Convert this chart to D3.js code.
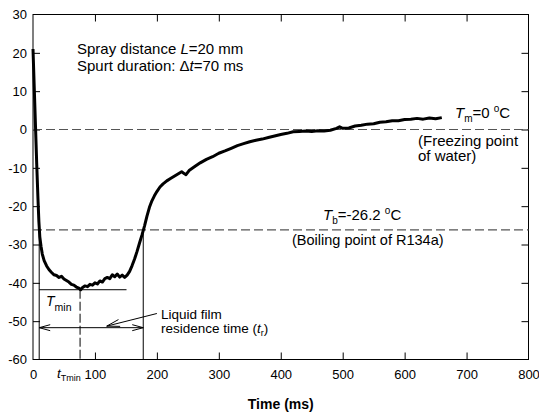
<!doctype html>
<html lang="en">
  <head>
    <meta charset="utf-8">
    <title>Spray cooling temperature</title>
    <script src="https://d3js.org/d3.v7.min.js"></script>
    <style>
      body { margin: 0; background: #fff; }
      svg text { font-family: "Liberation Sans", Arial, sans-serif; fill: #000; }
    </style>
  </head>

  <body>
    <svg width="539" height="415"></svg>

    <script>
      var timeMs = [0, 2, 4, 6, 8, 9.5, 11, 13, 15, 18, 22, 26, 30, 34, 38, 42, 46, 50, 54, 58,
        62, 66, 70, 74, 77, 80, 84, 88, 92, 96, 100, 104, 108, 112, 116, 120, 124, 128, 132, 136,
        140, 144, 148, 152, 156, 160, 164, 168, 172, 176, 180, 184, 188, 192, 196, 200, 205, 210, 216, 222,
        228, 234, 240, 244, 247, 252, 260, 270, 280, 290, 300, 310, 320, 330, 340, 350, 360, 370, 380, 390,
        400, 410, 420, 430, 440, 450, 460, 470, 480, 490, 495, 500, 510, 520, 530, 540, 550, 560, 570, 580,
        590, 600, 610, 620, 630, 640, 650, 660];
      var tempC = [21, 11, 1, -9, -18, -24, -28, -30.5, -32.5, -34.2, -35.6, -36.6, -37.3, -37.9, -38.1, -38.6, -38.3, -39.0, -39.4, -39.8,
        -40.4, -40.6, -41.1, -41.4, -41.8, -41.2, -40.8, -41.0, -40.4, -40.6, -40.0, -40.3, -39.5, -39.8, -38.9, -38.6, -38.9, -37.9, -38.4, -37.7,
        -38.5, -38.0, -38.6, -38.0, -37.0, -35.5, -33.8, -31.8, -29.6, -27.5, -25.2, -22.6, -20.3, -18.6, -17.3, -16.2, -15.0, -14.2, -13.4, -12.8,
        -12.2, -11.6, -11.0, -11.5, -11.8, -10.7, -9.8, -8.7, -7.8, -7.1, -6.2, -5.6, -4.9, -4.2, -3.7, -3.2, -2.8, -2.5, -2.1, -1.7,
        -1.3, -1.0, -0.6, -0.5, -0.4, -0.5, -0.3, -0.4, -0.2, 0.3, 0.7, 0.3, 0.4, 0.9, 1.1, 1.4, 1.5, 1.9, 2.0, 2.3,
        2.3, 2.6, 2.7, 2.9, 2.7, 3.0, 2.8, 3.1];

      var xTicks = [0, 100, 200, 300, 400, 500, 600, 700, 800];
      var yTicks = [30, 20, 10, 0, -10, -20, -30, -40, -50, -60];

      var freezingT = 0;
      var boilingT = -26.2;
      var tMin = -41.8;
      var tAtMin = 76;
      var filmStart = 10, filmEnd = 178;
      var tMinLineEnd = 151;
      var residenceY = -51.7;
      var pointerFrom = [200, -48], pointerTo = [119, -51.3];

      var svg = d3.select('svg');
      var plotL = 33, plotR = 528.5, plotT = 14.5, plotB = 359.5;

      var x = d3.scaleLinear().domain([0, 800]).range([plotL, plotR]);
      var y = d3.scaleLinear().domain([-60, 30]).range([plotB, plotT]);

      // plain hyphen minus, like the original
      var fmt = function(d){ return String(d); };

      // axes with inward ticks
      var gx = svg.append('g').attr('transform', 'translate(0,' + plotB + ')')
        .call(d3.axisBottom(x).tickValues(xTicks).tickSize(-7).tickPadding(10).tickFormat(fmt));
      var gxTop = svg.append('g').attr('transform', 'translate(0,' + plotT + ')')
        .call(d3.axisTop(x).tickValues(xTicks.slice(1, -1)).tickSize(-7).tickFormat(''));
      var gy = svg.append('g').attr('transform', 'translate(' + plotL + ',0)')
        .call(d3.axisLeft(y).tickValues(yTicks).tickSize(-7).tickPadding(6).tickFormat(fmt));
      var gyRight = svg.append('g').attr('transform', 'translate(' + plotR + ',0)')
        .call(d3.axisRight(y).tickValues(yTicks.slice(1, -1)).tickSize(-7).tickFormat(''));

      [gx, gxTop, gy, gyRight].forEach(function(g){
        g.select('.domain').remove();
        g.selectAll('line').attr('stroke', '#000');
        g.selectAll('text').attr('font-size', 13).attr('fill', '#000')
          .attr('font-family', '"Liberation Sans", Arial, sans-serif');
      });
      gx.selectAll('.tick line').filter(function(d){ return d === 0 || d === 800; }).remove();
      gy.selectAll('.tick line').filter(function(d){ return d === 30 || d === -60; }).remove();

      svg.append('rect')
        .attr('x', plotL).attr('y', plotT)
        .attr('width', plotR - plotL).attr('height', plotB - plotT)
        .attr('fill', 'none').attr('stroke', '#000').attr('stroke-width', 1);

      // reference temperatures
      [freezingT, boilingT].forEach(function(v){
        svg.append('line')
          .attr('x1', x(0)).attr('x2', x(800))
          .attr('y1', y(v)).attr('y2', y(v))
          .attr('stroke', '#555').attr('stroke-width', 1.2)
          .attr('stroke-dasharray', '9,4');
      });

      // annotation lines
      var ann = svg.append('g').attr('stroke', '#000').attr('stroke-width', 1).attr('fill', 'none');
      ann.append('line').attr('x1', x(filmStart)).attr('x2', x(tMinLineEnd)).attr('y1', y(tMin)).attr('y2', y(tMin));
      [filmStart, filmEnd].forEach(function(t){
        ann.append('line').attr('x1', x(t)).attr('x2', x(t)).attr('y1', y(boilingT)).attr('y2', y(-60));
      });
      ann.append('line').attr('x1', x(tAtMin)).attr('x2', x(tAtMin)).attr('y1', y(tMin)).attr('y2', y(-60))
        .attr('stroke-dasharray', '9,3');
      ann.append('line').attr('x1', x(filmStart)).attr('x2', x(filmEnd)).attr('y1', y(residenceY)).attr('y2', y(residenceY));
      ann.append('line').attr('x1', x(pointerFrom[0])).attr('y1', y(pointerFrom[1]))
        .attr('x2', x(pointerTo[0])).attr('y2', y(pointerTo[1]));

      var arrowHead = function(px, py, angle, len, half){
        var ca = Math.cos(angle), sa = Math.sin(angle);
        var bx = px - len * ca, by = py - len * sa;
        ann.append('path')
          .attr('d', 'M' + (bx - half * sa) + ',' + (by + half * ca) + ' L' + px + ',' + py +
                     ' L' + (bx + half * sa) + ',' + (by - half * ca));
      };
      arrowHead(x(filmStart), y(residenceY), Math.PI, 11, 3);
      arrowHead(x(filmEnd), y(residenceY), 0, 11, 3);
      var pa = Math.atan2(y(pointerTo[1]) - y(pointerFrom[1]), x(pointerTo[0]) - x(pointerFrom[0]));
      arrowHead(x(pointerTo[0]), y(pointerTo[1]), pa, 13, 3.5);

      // temperature curve
      var line = d3.line()
        .x(function(d){ return x(d[0]); })
        .y(function(d){ return y(d[1]); });
      svg.append('path')
        .datum(d3.zip(timeMs, tempC))
        .attr('d', line)
        .attr('fill', 'none').attr('stroke', '#000')
        .attr('stroke-width', 3).attr('stroke-linejoin', 'round');

      // labels
      var label = function(px, py, size){
        return svg.append('text').attr('x', px).attr('y', py).attr('font-size', size);
      };
      var t1 = label(77, 54, 15);
      t1.append('tspan').text('Spray distance ');
      t1.append('tspan').attr('font-style', 'italic').text('L');
      t1.append('tspan').text('=20 mm');
      var t2 = label(77, 71, 15);
      t2.append('tspan').text('Spurt duration: \u0394');
      t2.append('tspan').attr('font-style', 'italic').text('t');
      t2.append('tspan').text('=70 ms');

      var tm = label(455, 118, 15);
      tm.append('tspan').attr('font-style', 'italic').text('T');
      tm.append('tspan').attr('font-size', 10).attr('dy', 4).text('m');
      tm.append('tspan').attr('dy', -4).text('=0 ');
      tm.append('tspan').attr('font-size', 10).attr('dy', -6).text('o');
      tm.append('tspan').attr('dy', 6).text('C');
      label(418, 145.5, 15).text('(Freezing point');
      label(418, 161, 15).text('of water)');

      var tb = label(323, 220, 15);
      tb.append('tspan').attr('font-style', 'italic').text('T');
      tb.append('tspan').attr('font-size', 10).attr('dy', 4).text('b');
      tb.append('tspan').attr('dy', -4).text('=-26.2 ');
      tb.append('tspan').attr('font-size', 10).attr('dy', -6).text('o');
      tb.append('tspan').attr('dy', 6).text('C');
      label(292, 245, 14.5).text('(Boiling point of R134a)');

      label(161, 319, 13.5).text('Liquid film');
      var rt = label(161, 333, 13.5);
      rt.append('tspan').text('residence time (');
      rt.append('tspan').attr('font-style', 'italic').text('t');
      rt.append('tspan').attr('font-size', 9).attr('dy', 3).text('r');
      rt.append('tspan').attr('dy', -3).text(')');

      var tml = label(46, 305.5, 14);
      tml.append('tspan').attr('font-style', 'italic').text('T');
      tml.append('tspan').attr('font-size', 10.5).attr('dy', 5).text('min');

      var ttl = label(57, 378, 13.5);
      ttl.append('tspan').attr('font-style', 'italic').text('t');
      ttl.append('tspan').attr('font-size', 9).attr('dy', 3).text('Tmin');

      label((plotL + plotR) / 2, 408.5, 14).attr('text-anchor', 'middle')
        .attr('font-weight', 'bold').text('Time (ms)');
    </script>
  </body>
</html>
